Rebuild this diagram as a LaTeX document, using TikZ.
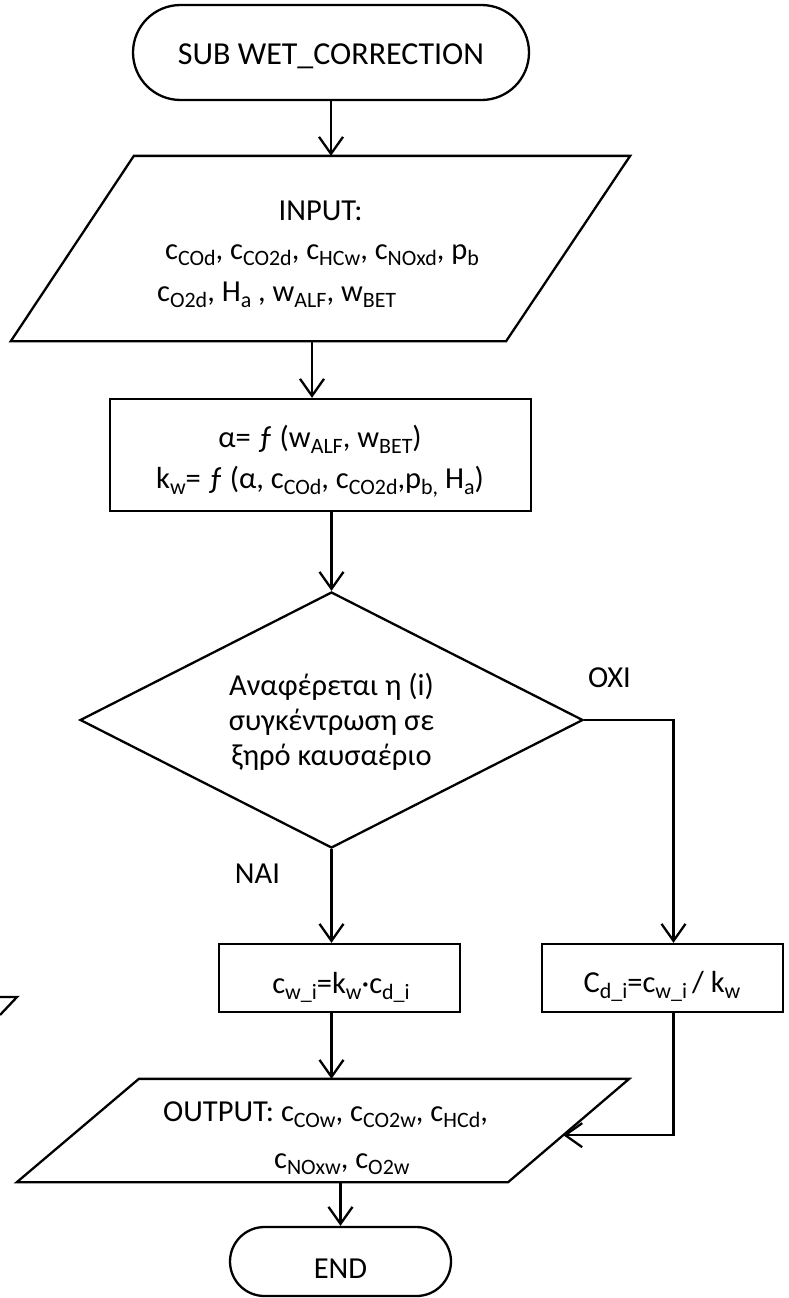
\documentclass[tikz,border=0pt]{standalone}
\usepackage{fontspec}
\setmainfont{Carlito}
\usepackage{graphicx}
\usetikzlibrary{arrows.meta,shapes.geometric,shapes.misc,calc}

% lowered, reduced-size index text
\newcommand\lo[1]{\raisebox{-0.2em}{\scalebox{0.72}{#1}}}

\begin{document}
\begin{tikzpicture}[x=1pt,y=1pt,
  line width=2.3pt,
  every node/.style={inner sep=0pt, font=\fontsize{30.5}{37}\selectfont},
  term/.style={draw, rounded rectangle, rounded rectangle arc length=180},
  frame/.style={rectangle},
  proc/.style={draw, rectangle},
  decision/.style={draw, diamond, aspect=2},
  txt/.style={anchor=base},
  txtl/.style={anchor=base west},
  arr/.style={-{Straight Barb[length=17pt,width=24pt]}}
]
% canvas
\fill[white] (0,0) rectangle (788,-1298);
\useasboundingbox (0,0) rectangle (788,-1298);

% ---- shapes ----
\node[term, minimum width=396pt, minimum height=95pt] (start) at (331,-52.5) {};
\node[txt, font=\fontsize{32}{38}\selectfont] (startT) at (331,-65) {SUB WET\_CORRECTION};

\node[frame, minimum width=617pt, minimum height=183pt] (input) at (320.5,-248.5) {};
\draw ($(input.north west)+(123,0)$) -- (input.north east)
   -- ($(input.south east)+(-124,0)$) -- (input.south west) -- cycle;
\node[txt] (inT1) at (320.5,-220) {INPUT:};
\node[txtl] (inT2) at (164,-259) {c\lo{COd}, c\lo{CO2d}, c\lo{HCw}, c\lo{NOxd}, p\lo{b}};
\node[txtl] (inT3) at (156,-301) {c\lo{O2d}, H\lo{a} , w\lo{ALF}, w\lo{BET}};

\node[proc, minimum width=421pt, minimum height=112pt] (calc) at (320.5,-455) {};
\node[txt] (calcT1) at (320,-447) {α= ƒ (w\lo{ALF}, w\lo{BET})};
\node[txt] (calcT2) at (320,-488) {k\lo{w}= ƒ (α, c\lo{COd}, c\lo{CO2d},p\lo{b,} H\lo{a})};

\node[decision, minimum width=503pt, minimum height=256pt] (dec) at (331.5,-720) {};
\node[txt] (decT1) at (331.5,-695) {Αναφέρεται η (i)};
\node[txt] (decT2) at (331.5,-730) {συγκέντρωση σε};
\node[txt] (decT3) at (331.5,-765) {ξηρό καυσαέριο};

\node[txt] (oxi) at (609.5,-687) {ΟΧΙ};
\node[txt] (nai) at (257.5,-883) {ΝΑΙ};

\node[proc, minimum width=241pt, minimum height=68pt] (lrect) at (339.5,-978) {};
\node[txt] (lrectT) at (341,-993) {c\lo{w\_i}=k\lo{w}·c\lo{d\_i}};

\node[proc, minimum width=241pt, minimum height=68pt] (rrect) at (662.5,-978) {};
\node[txt] (rrectT) at (662,-992) {C\lo{d\_i}=c\lo{w\_i}\,/ k\lo{w}};
\coordinate (rcol) at ($(rrect.center)+(11,0)$);

\node[frame, minimum width=610pt, minimum height=101pt] (out) at (323,-1130.5) {};
\draw ($(out.north west)+(122,0)$) -- (out.north east)
   -- ($(out.south east)+(-121,0)$) -- (out.south west) -- cycle;
\coordinate (outR) at ($(out.north east)!0.545!($(out.south east)+(-121,0)$)$);
\node[txtl] (outT1) at (162,-1121) {OUTPUT: c\lo{COw}, c\lo{CO2w}, c\lo{HCd},};
\node[txtl] (outT2) at (273,-1168) {c\lo{NOxw}, c\lo{O2w}};

\node[term, minimum width=221pt, minimum height=69pt] (stop) at (340.5,-1261.5) {};
\node[txt] (stopT) at (340.5,-1278) {END};

% stray corner stroke at the left margin
\draw (0,-997) -- (17,-997) -- (0,-1015);

% ---- connectors ----
\draw[arr] (start.south) -- (start.south |- input.north);
\draw[arr] ([xshift=-8.5pt]input.south) -- ([xshift=-8.5pt]input.south |- calc.north);
\draw[arr] (calc.south -| dec.north) -- (dec.north);
\draw[arr] (dec.south) -- (dec.south |- lrect.north);
\draw[arr] (dec.east) -- (dec.east -| rcol) -- (rcol |- rrect.north);
\draw[arr] (dec.south |- lrect.south) -- (dec.south |- out.north);
\draw[arr] (rcol |- rrect.south) -- (rcol |- outR) -- (outR);
\draw[arr] (stop.north |- out.south) -- (stop.north);
\end{tikzpicture}
\end{document}
